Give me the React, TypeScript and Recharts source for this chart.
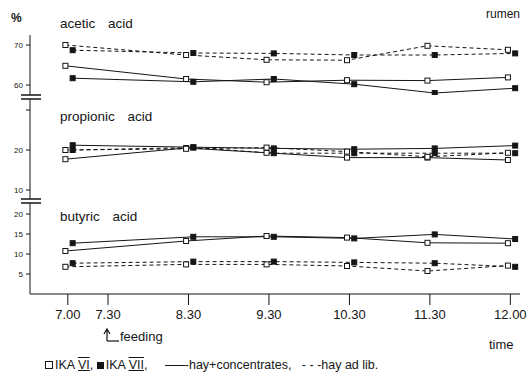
import React from "react";
import { LineChart, Line, XAxis, YAxis } from "recharts";

const timeLabels = ["7.00", "7.30", "8.30", "9.30", "10.30", "11.30", "12.00"];
const tickPos = [0, 0.5, 1.5, 2.5, 3.5, 4.5, 5.5];
const samplePos = [0, 1.5, 2.5, 3.5, 4.5, 5.5];

// acetic acid, %
const aceticVIConc = [64.8, 61.5, 60.7, 61.2, 61.1, 61.9];
const aceticVIIConc = [61.7, 60.8, 61.5, 60.2, 58.0, 59.2];
const aceticVIHay = [70.0, 67.5, 66.3, 66.2, 69.8, 68.8];
const aceticVIIHay = [68.7, 68.0, 67.9, 67.5, 67.5, 67.9];

// propionic acid, %
const propVIConc = [17.7, 20.5, 19.3, 18.1, 18.1, 17.5];
const propVIIConc = [21.2, 20.7, 20.4, 20.2, 20.4, 21.1];
const propVIHay = [20.0, 20.3, 20.6, 19.6, 18.3, 19.3];
const propVIIHay = [20.0, 20.6, 19.2, 19.2, 19.2, 19.2];

// butyric acid, %
const butVIConc = [10.75, 13.25, 14.5, 14.1, 12.8, 12.7];
const butVIIConc = [12.7, 14.3, 14.3, 13.9, 14.9, 13.75];
const butVIHay = [6.8, 7.4, 7.4, 7.0, 5.75, 7.1];
const butVIIHay = [7.7, 8.1, 8.1, 7.9, 7.7, 6.8];

// the two animals are drawn slightly apart so the squares don't hide each other
const OPEN_SHIFT = -0.03;
const FILLED_SHIFT = 0.06;

const INK = "#151515";
const FONT = "'Liberation Sans', Arial, sans-serif";

const toPoints = (vals: number[], filled: boolean) =>
  vals.map((v, i) => ({ x: samplePos[i] + (filled ? FILLED_SHIFT : OPEN_SHIFT), y: v }));

const squareDot = (filled: boolean) => (props: any) => {
  const { cx, cy, index } = props;
  if (cx == null || cy == null) return <g key={index} />;
  return (
    <rect
      key={index}
      x={cx - 2.5}
      y={cy - 2.5}
      width={5}
      height={5}
      fill={filled ? INK : "#fff"}
      stroke={INK}
      strokeWidth={1}
    />
  );
};

type Series = { vals: number[]; filled: boolean; dashed: boolean };

function Panel(props: {
  top: number;
  height: number;
  domain: [number, number];
  ticks: number[];
  hideLabel?: number;
  series: Series[];
  showX?: boolean;
}) {
  const { top, height, domain, ticks, hideLabel, series, showX } = props;
  const xH = showX ? 34 : 0;
  return (
    <div style={{ position: "absolute", left: 0, top }}>
      <LineChart width={527} height={height + xH} margin={{ top: 0, right: 7, bottom: 0, left: 0 }}>
        <XAxis
          type="number"
          dataKey="x"
          domain={[-0.47, 5.62]}
          ticks={tickPos}
          interval={0}
          hide={!showX}
          height={xH}
          allowDataOverflow
          tickFormatter={(v) => timeLabels[tickPos.indexOf(v)] ?? ""}
          axisLine={{ stroke: INK }}
          tickLine={{ stroke: INK }}
          tickSize={11}
          tickMargin={5}
          tick={{ fontSize: 13, fill: INK, fontFamily: FONT }}
        />
        <YAxis
          type="number"
          dataKey="y"
          domain={domain}
          ticks={ticks}
          interval={0}
          width={30}
          allowDataOverflow
          tickFormatter={(v) => (v === hideLabel ? "" : String(v))}
          axisLine={{ stroke: INK }}
          tickLine={{ stroke: INK }}
          tickSize={4}
          tickMargin={3}
          tick={{ fontSize: 8, fill: INK, fontFamily: FONT }}
        />
        {series.map((s, i) => (
          <Line
            key={i}
            data={toPoints(s.vals, s.filled)}
            dataKey="y"
            type="linear"
            stroke={INK}
            strokeWidth={1}
            strokeDasharray={s.dashed ? "4 3" : undefined}
            dot={squareDot(s.filled)}
            activeDot={false}
            isAnimationActive={false}
          />
        ))}
      </LineChart>
    </div>
  );
}

const txt = { fontFamily: FONT, fill: INK } as const;

export default function App() {
  return (
    <div style={{ position: "absolute", left: 0, top: 0, width: 527, height: 376, background: "#fff", fontFamily: FONT }}>
      <Panel
        top={35}
        height={60}
        domain={[57.5, 72.5]}
        ticks={[60, 70]}
        series={[
          { vals: aceticVIConc, filled: false, dashed: false },
          { vals: aceticVIIConc, filled: true, dashed: false },
          { vals: aceticVIHay, filled: false, dashed: true },
          { vals: aceticVIIHay, filled: true, dashed: true },
        ]}
      />
      <Panel
        top={99}
        height={100}
        domain={[7.75, 32.75]}
        ticks={[10, 20, 30]}
        hideLabel={30}
        series={[
          { vals: propVIConc, filled: false, dashed: false },
          { vals: propVIIConc, filled: true, dashed: false },
          { vals: propVIHay, filled: false, dashed: true },
          { vals: propVIIHay, filled: true, dashed: true },
        ]}
      />
      <Panel
        top={203}
        height={91}
        domain={[0, 22.75]}
        ticks={[5, 10, 15, 20]}
        showX
        series={[
          { vals: butVIConc, filled: false, dashed: false },
          { vals: butVIIConc, filled: true, dashed: false },
          { vals: butVIHay, filled: false, dashed: true },
          { vals: butVIIHay, filled: true, dashed: true },
        ]}
      />

      <svg width={527} height={376} style={{ position: "absolute", left: 0, top: 0, pointerEvents: "none" }}>
        <text x={11} y={22} fontSize={12} fontWeight="bold" {...txt}>%</text>
        <text x={486} y={18} fontSize={12} {...txt}>rumen</text>
        <text x={60} y={28} fontSize={13.5} {...txt} style={{ wordSpacing: 9 }}>acetic acid</text>
        <text x={60} y={121} fontSize={13.5} {...txt} style={{ wordSpacing: 9 }}>propionic acid</text>
        <text x={60} y={221} fontSize={13.5} {...txt} style={{ wordSpacing: 9 }}>butyric acid</text>

        {/* axis breaks */}
        <line x1={21} x2={41} y1={95} y2={95} stroke={INK} strokeWidth={1.5} />
        <line x1={21} x2={41} y1={99} y2={99} stroke={INK} strokeWidth={1.5} />
        <line x1={21} x2={41} y1={199} y2={199} stroke={INK} strokeWidth={1.5} />
        <line x1={21} x2={41} y1={203} y2={203} stroke={INK} strokeWidth={1.5} />

        {/* feeding marker */}
        <path d="M107 341 L107 330 M104 334 L107 329 L110 334" fill="none" stroke={INK} strokeWidth={1.2} />
        <line x1={107} x2={119} y1={341} y2={341} stroke={INK} strokeWidth={1.2} />
        <text x={120} y={341} fontSize={13} {...txt}>feeding</text>
        <text x={489} y={349} fontSize={13} {...txt}>time</text>
      </svg>

      <div style={{ position: "absolute", left: 45, top: 358, fontSize: 12.5, color: INK, whiteSpace: "pre", display: "flex", alignItems: "center" }}>
        <span style={{ display: "inline-block", width: 6, height: 6, border: `1px solid ${INK}`, marginRight: 2 }} />
        <span>IKA </span>
        <span style={{ textDecoration: "underline overline" }}>VI</span>
        <span>, </span>
        <span style={{ display: "inline-block", width: 7, height: 7, background: INK, marginRight: 2 }} />
        <span>IKA </span>
        <span style={{ textDecoration: "underline overline" }}>VII</span>
        <span>,     </span>
        <span style={{ display: "inline-block", width: 20, borderTop: `1px solid ${INK}` }} />
        <span>-hay+concentrates,   </span>
        <span>- - -hay ad lib.</span>
      </div>
    </div>
  );
}
